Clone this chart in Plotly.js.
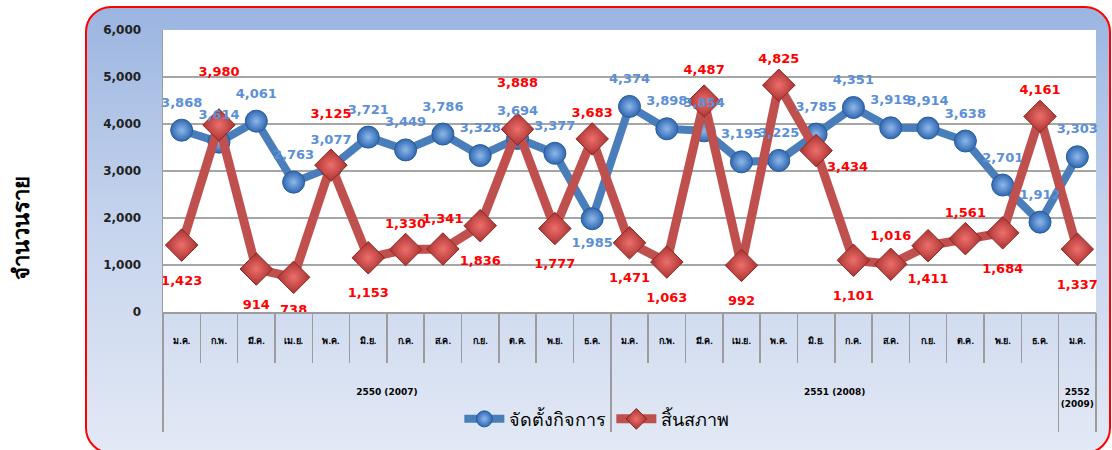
<!DOCTYPE html>
<html>
<head>
<meta charset="utf-8">
<script src="https://cdn.plot.ly/plotly-3.0.1.min.js"></script>
<style>
  body { margin: 0; background: #ffffff; }
  #frame {
    position: absolute; left: 85px; top: 6px; width: 1022px; height: 444px;
    border: 2px solid #ff0000; border-radius: 26px;
    background: linear-gradient(to bottom, #9bb5e1 0%, #c3d2ec 45%, #e3e9f5 100%);
  }
  #plot { position: absolute; left: 0; top: 0; width: 1112px; height: 450px; }
</style>
</head>
<body>
<div id="frame"></div>
<div id="plot"></div>
<script>
// month labels along the x axis (2550 = 12 months, 2551 = 12 months, 2552 = 1 month)
const months = [
  "ม.ค.", "ก.พ.", "มี.ค.", "เม.ย.", "พ.ค.", "มิ.ย.", "ก.ค.", "ส.ค.", "ก.ย.", "ต.ค.", "พ.ย.", "ธ.ค.",
  "ม.ค.", "ก.พ.", "มี.ค.", "เม.ย.", "พ.ค.", "มิ.ย.", "ก.ค.", "ส.ค.", "ก.ย.", "ต.ค.", "พ.ย.", "ธ.ค.",
  "ม.ค."
];
const yearLabels = ["2550 (2007)", "2551 (2008)", "2552<br>(2009)"];
const yearMonthCounts = [12, 12, 1];

// จัดตั้งกิจการ (registered)
const established = [3868, 3614, 4061, 2763, 3077, 3721, 3449, 3786, 3328, 3694, 3377, 1985,
  4374, 3898, 3854, 3195, 3225, 3785, 4351, 3919, 3914, 3638, 2701, 1912, 3303];
// สิ้นสภาพ (dissolved)
const dissolved = [1423, 3980, 914, 738, 3125, 1153, 1330, 1341, 1836, 3888, 1777, 3683,
  1471, 1063, 4487, 992, 4825, 3434, 1101, 1016, 1411, 1561, 1684, 4161, 1337];

const seriesNames = ["จัดตั้งกิจการ", "สิ้นสภาพ"];

// label placement
const blueTextPos = established.map((v, i) => (i === 11 ? "bottom center" : "top center"));
const redTextPos = ["bottom center", "top center", "bottom center", "bottom center", "top center",
  "bottom center", "top center", "top center", "bottom center", "top center", "bottom center", "top center",
  "bottom center", "bottom center", "top center", "bottom center", "top center", "bottom right",
  "bottom center", "top center", "bottom center", "top center", "bottom center", "top center", "bottom center"];
// distance (px) from a red point to its label
const redLabelGap = [35, 53, 35, 32, 52, 35, 26, 31, 35, 47, 35, 26,
  35, 35, 32, 35, 27, 16, 35, 29, 33, 26, 36, 27, 35];

const idx = months.map((_, i) => i);
const range = [-0.5, months.length - 0.5];

// year centres and boundaries
const yearCenters = [];
const yearBounds = [-0.5];
let start = 0;
yearMonthCounts.forEach((n) => {
  yearCenters.push(start + (n - 1) / 2);
  start += n;
  yearBounds.push(start - 0.5);
});
const monthBounds = months.map((_, i) => i - 0.5).concat([months.length - 0.5]);

const fmt = (v) => v.toLocaleString("en-US");
const labelSize = 13;
// plotly offsets text by (marker radius / 0.8 + 1); turn a wanted gap into an invisible marker size
function gapToSize(gap, pos) {
  const extra = pos.startsWith("top") ? labelSize * 0.6 : labelSize * 0.4;
  const r = Math.max(gap - extra, 2);
  return 2 * (r - 1) * 0.8;
}

const gridGray = "#a6a6a6";
const lineGray = "#9c9c9c";
const labelFont = "DejaVu Sans";

// empty helper trace so an overlay axis gets drawn
function axisHolder(xa) {
  return { x: [0], y: [null], xaxis: xa, yaxis: "y", type: "scatter", mode: "markers",
    showlegend: false, hoverinfo: "skip" };
}

const traces = [
  {
    x: idx,
    y: established,
    name: seriesNames[0],
    type: "scatter",
    mode: "lines+markers",
    line: { color: "#4a7ebb", width: 8 },
    marker: {
      symbol: "circle", size: 22, color: "#2f68b0",
      gradient: { type: "radial", color: "#8fb8ec" },
      line: { color: "#285d9e", width: 1 },
    },
  },
  {
    x: idx,
    y: dissolved,
    name: seriesNames[1],
    type: "scatter",
    mode: "lines+markers",
    line: { color: "#c0504d", width: 9 },
    marker: {
      symbol: "diamond", size: 25, color: "#a93230",
      gradient: { type: "radial", color: "#ee6f6c" },
      line: { color: "#8c2826", width: 1 },
    },
  },
  // data labels drawn above both series
  {
    x: idx,
    y: established,
    type: "scatter",
    mode: "markers+text",
    marker: { size: established.map((v, i) => gapToSize(i === 11 ? 24 : 28, blueTextPos[i])), opacity: 0 },
    text: established.map(fmt),
    textposition: blueTextPos,
    textfont: { family: labelFont, size: labelSize, color: "#5b8fd6", weight: "bold" },
    showlegend: false,
    cliponaxis: false,
  },
  {
    x: idx,
    y: dissolved,
    type: "scatter",
    mode: "markers+text",
    marker: { size: redLabelGap.map((g, i) => gapToSize(g, redTextPos[i])), opacity: 0 },
    text: dissolved.map(fmt),
    textposition: redTextPos,
    textfont: { family: labelFont, size: labelSize, color: "#ff0000", weight: "bold" },
    showlegend: false,
    cliponaxis: false,
  },
  axisHolder("x2"),
  axisHolder("x3"),
  axisHolder("x4"),
];

const layout = {
  width: 1112,
  height: 450,
  margin: { l: 163, r: 16, t: 30, b: 138 },
  paper_bgcolor: "rgba(0,0,0,0)",
  plot_bgcolor: "#ffffff",
  showlegend: true,
  legend: {
    orientation: "h",
    x: 0.465, xanchor: "center",
    y: -0.38, yanchor: "middle",
    font: { family: "Tahoma, 'Noto Sans', sans-serif", size: 18, color: "#000000" },
    bgcolor: "rgba(0,0,0,0)",
    itemwidth: 40,
  },
  xaxis: {
    type: "linear",
    range: range,
    tickvals: idx,
    ticktext: months,
    ticks: "",
    showgrid: false,
    zeroline: false,
    showline: true,
    linecolor: lineGray,
    linewidth: 1.5,
    ticklabelstandoff: 20,
    tickfont: { family: "Tahoma, 'Noto Sans', sans-serif", size: 9, color: "#000000", weight: "bold" },
  },
  // month separators
  xaxis2: {
    overlaying: "x",
    anchor: "y",
    side: "bottom",
    type: "linear",
    range: range,
    tickvals: monthBounds,
    ticks: "outside",
    ticklen: 50,
    tickwidth: 1.5,
    tickcolor: lineGray,
    showticklabels: false,
    showgrid: false,
    zeroline: false,
  },
  // year labels
  xaxis3: {
    overlaying: "x",
    anchor: "y",
    side: "bottom",
    type: "linear",
    range: range,
    tickvals: yearCenters,
    ticktext: yearLabels,
    ticks: "",
    ticklabelstandoff: 73,
    showgrid: false,
    zeroline: false,
    tickfont: { family: labelFont, size: 9, color: "#000000", weight: "bold" },
  },
  // year separators
  xaxis4: {
    overlaying: "x",
    anchor: "y",
    side: "bottom",
    type: "linear",
    range: range,
    tickvals: yearBounds,
    ticks: "outside",
    ticklen: 119,
    tickwidth: 1.5,
    tickcolor: lineGray,
    showticklabels: false,
    showgrid: false,
    zeroline: false,
  },
  yaxis: {
    range: [0, 6000],
    dtick: 1000,
    tickformat: ",",
    gridcolor: gridGray,
    gridwidth: 1.5,
    zeroline: false,
    showline: true,
    linecolor: lineGray,
    linewidth: 1.5,
    ticks: "",
    ticklabelstandoff: 18,
    tickfont: { family: labelFont, size: 12, color: "#222222", weight: "bold" },
  },
  annotations: [
    {
      text: "จำนวนราย",
      xref: "paper", yref: "paper",
      x: (20 - 163) / 933, y: (312 - 228) / 282,
      xanchor: "center", yanchor: "middle",
      textangle: -90,
      showarrow: false,
      font: { family: "Tahoma, 'Noto Sans', sans-serif", size: 22, color: "#000000", weight: "bold" },
    },
  ],
};

Plotly.newPlot("plot", traces, layout, { displayModeBar: false, staticPlot: true });
</script>
</body>
</html>
